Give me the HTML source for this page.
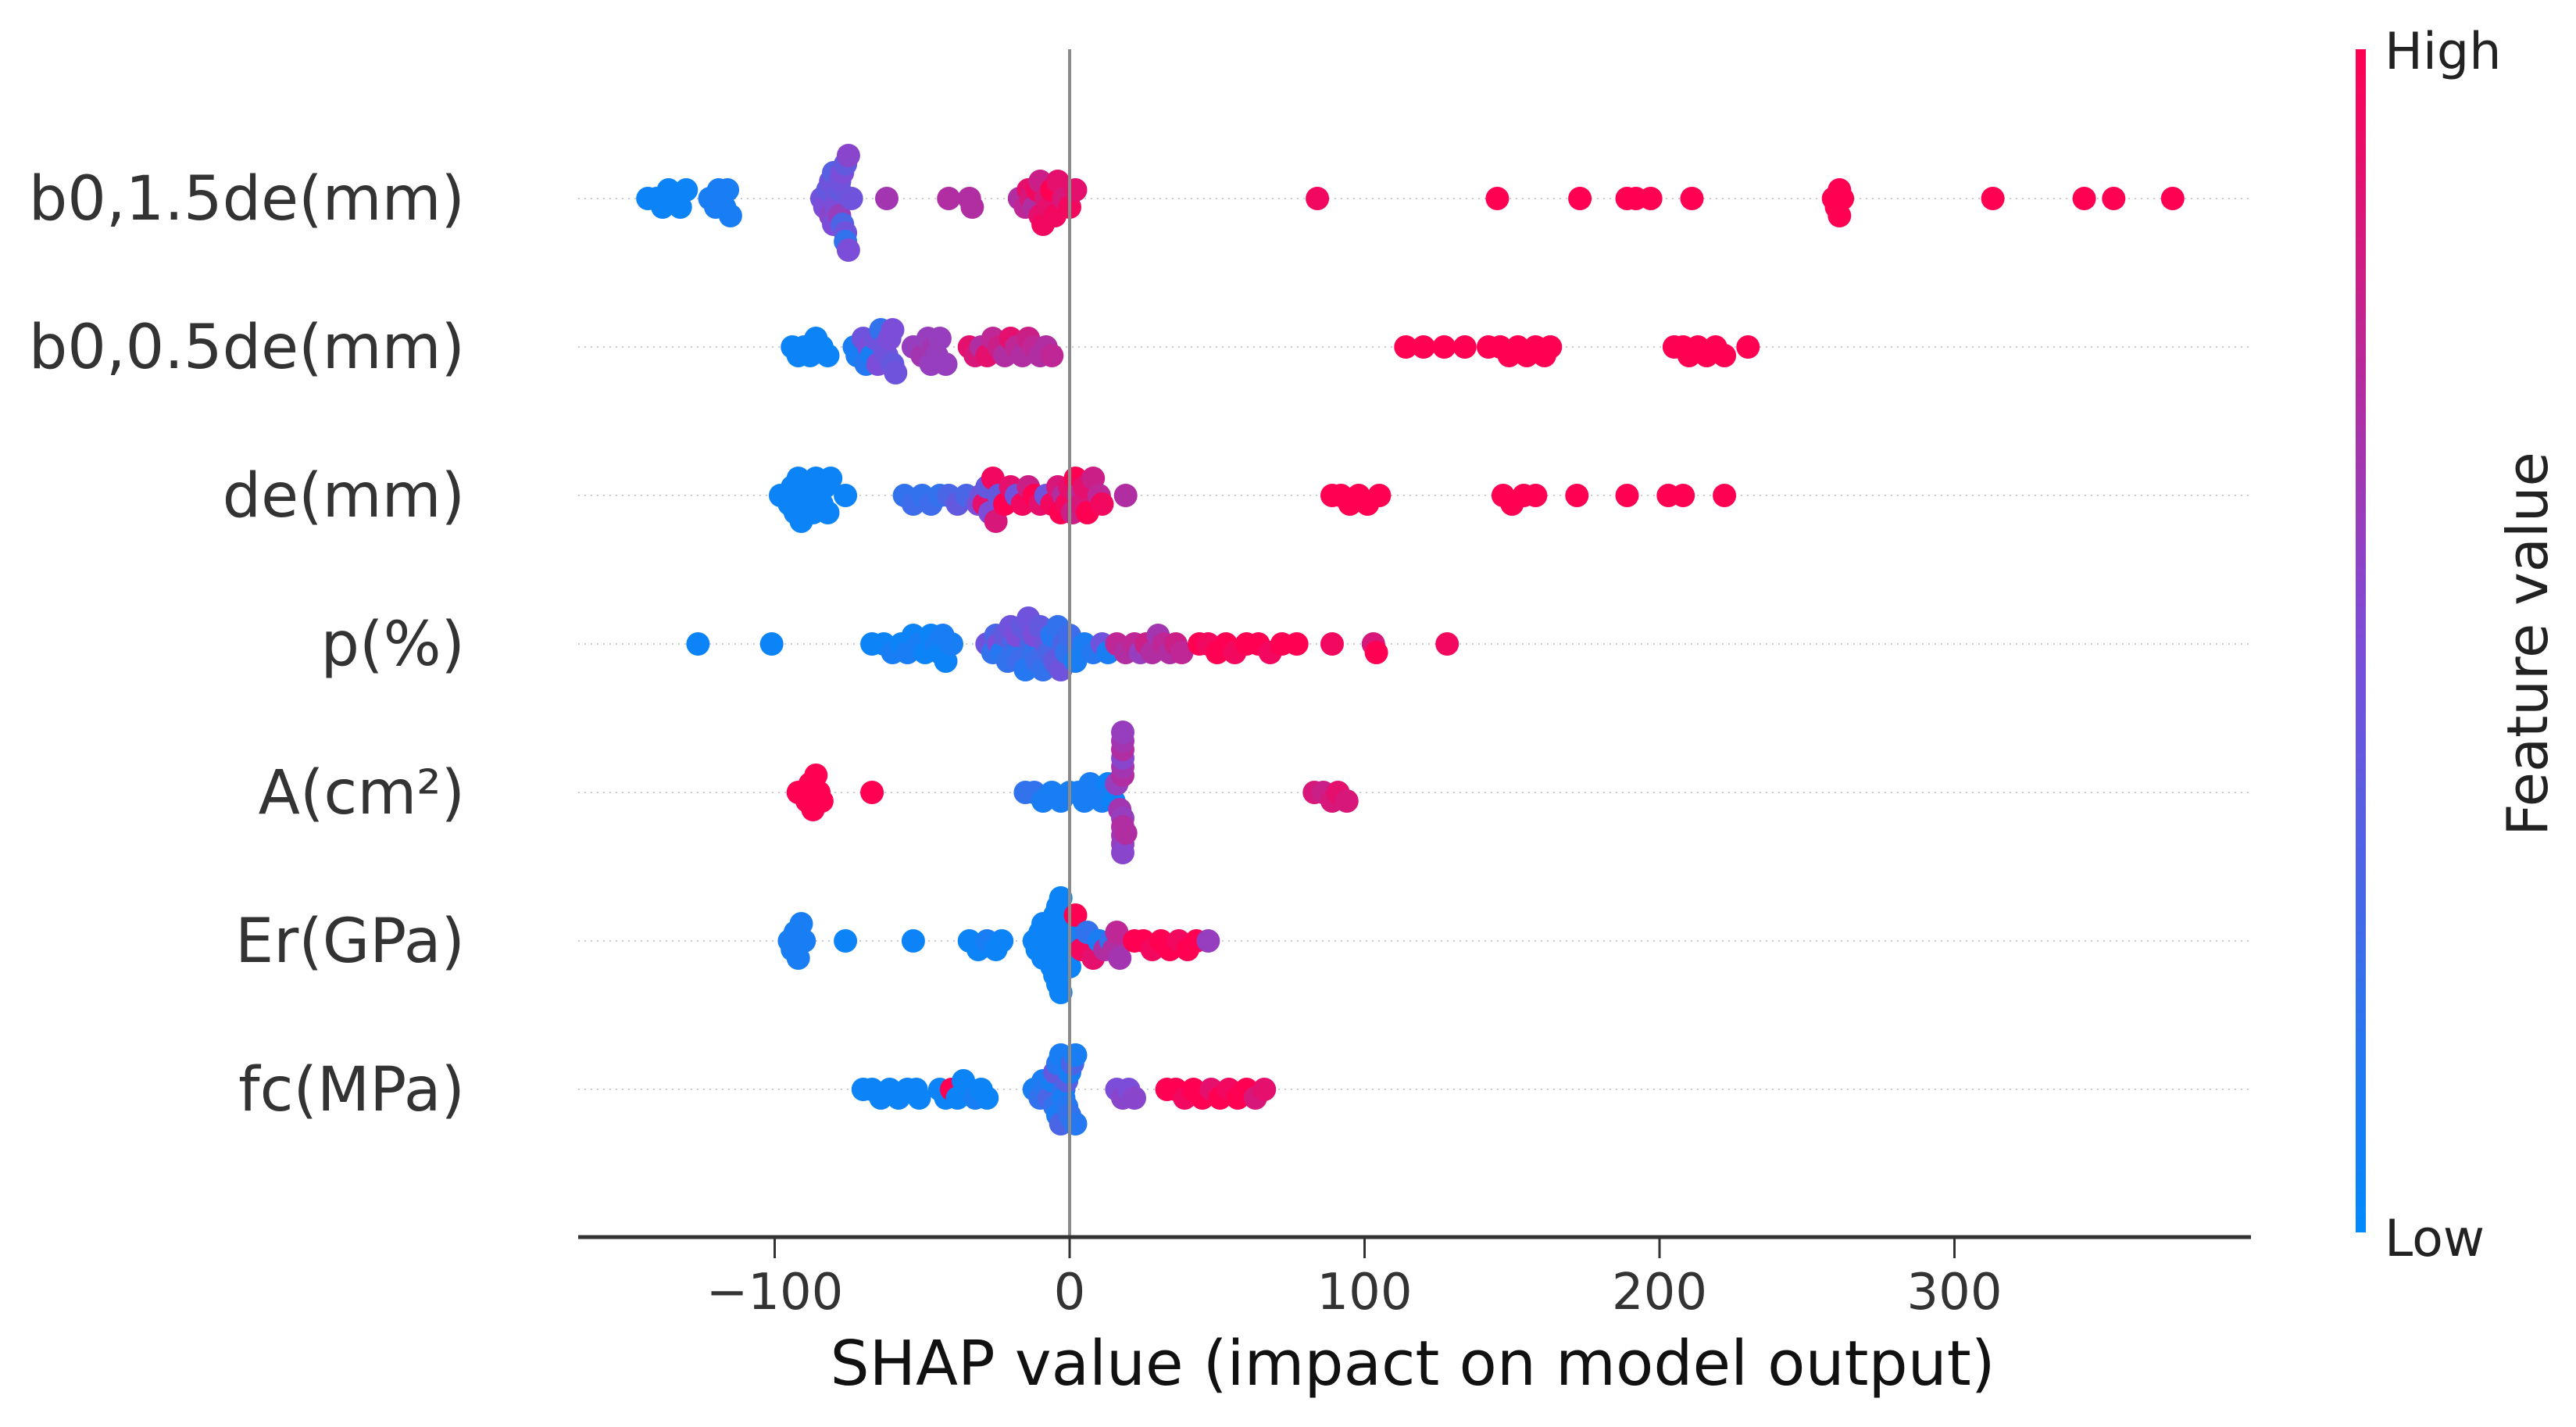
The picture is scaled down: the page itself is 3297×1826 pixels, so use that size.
<!DOCTYPE html>
<html><head><meta charset="utf-8">
<style>
html,body{margin:0;padding:0;background:#fff;}
svg{display:block;font-family:"DejaVu Sans","Liberation Sans",sans-serif;}
</style></head>
<body>
<svg id="chart" width="3297" height="1826" viewBox="0 0 3297 1826" xmlns="http://www.w3.org/2000/svg">
<defs>
<linearGradient id="cbar" x1="0" y1="1" x2="0" y2="0">
<stop offset="0" stop-color="#008afb"/>
<stop offset="0.5" stop-color="#7c4dd8"/>
<stop offset="1" stop-color="#ff0052"/>
</linearGradient>
</defs>
<g id="rows"></g>
<g id="dots"></g>
<line x1="1369" y1="63" x2="1369" y2="1583" stroke="#8a8a8a" stroke-width="4"/>
<line x1="740" y1="1583" x2="2881" y2="1583" stroke="#333" stroke-width="5"/>
<g id="xticks"></g>
<text x="1808" y="1772" font-size="79" text-anchor="middle" fill="#111">SHAP value (impact on model output)</text>
<rect x="3015" y="63" width="13" height="1514" fill="url(#cbar)"/>
<text x="3052" y="88" font-size="65" fill="#222">High</text>
<text x="3052" y="1607" font-size="65" fill="#222">Low</text>
<text transform="translate(3260,824) rotate(-90)" font-size="72" text-anchor="middle" fill="#222">Feature value</text>
</svg>
<script>
const features = ["b0,1.5de(mm)","b0,0.5de(mm)","de(mm)","p(%)","A(cm²)","Er(GPa)","fc(MPa)"];
const xTicks = [-100,0,100,200,300];
const xTickLabels = ["\u2212100","0","100","200","300"];
// SHAP values per feature and matching normalized feature values (0=low,1=high)
const shap0 = [-143,-140,-138,-136,-134,-132,-130,-122,-120,-119,-118,-117,-116,-115,-84,-83,-82,-81,-81,-80,-80,-79,-79,-78,-78,-78,-77,-77,-76,-76,-76,-75,-75,-74,-62,-41,-34,-33,-17,-15,-14,-13,-12,-11,-10,-10,-9,-8,-7,-6,-5,-4,-2,0,2,84,145,173,189,192,197,211,259,260,261,261,262,313,344,354,374];
const feat0 = [0.05,0.05,0.05,0.05,0.05,0.05,0.05,0.1,0.1,0.1,0.1,0.1,0.1,0.1,0.45,0.5,0.4,0.55,0.45,0.5,0.35,0.45,0.5,0.4,0.6,0.45,0.3,0.5,0.45,0.4,0.2,0.55,0.5,0.45,0.65,0.7,0.7,0.7,0.7,0.75,0.9,0.85,0.7,0.95,0.9,0.8,0.95,0.85,0.9,1,0.95,0.9,0.85,0.95,0.9,0.95,1,1,1,1,1,1,1,1,1,1,1,1,1,1,1];
const shap1 = [-94,-92,-90,-88,-86,-84,-82,-73,-72,-70,-69,-68,-67,-66,-65,-64,-63,-62,-61,-60,-60,-59,-53,-51,-50,-48,-47,-46,-45,-44,-42,-34,-32,-30,-28,-26,-24,-22,-20,-18,-16,-14,-12,-10,-8,-6,114,120,127,134,142,146,149,152,155,158,161,163,205,208,210,213,216,219,222,230];
const feat1 = [0.05,0.05,0.05,0.05,0.05,0.05,0.05,0.1,0.1,0.45,0.15,0.5,0.1,0.45,0.5,0.2,0.45,0.45,0.5,0.4,0.5,0.45,0.6,0.6,0.65,0.6,0.6,0.65,0.6,0.6,0.6,0.9,0.85,0.7,0.9,0.75,0.8,0.7,0.9,0.75,0.7,0.8,0.75,0.7,0.7,0.75,1,1,1,1,1,1,1,1,1,1,1,1,1,1,1,1,1,1,1,1];
const shap2 = [-98,-96,-95,-94,-93,-92,-91,-90,-89,-88,-87,-86,-85,-84,-83,-82,-81,-76,-56,-53,-50,-47,-44,-41,-38,-35,-31,-30,-29,-28,-27,-26,-25,-24,-22,-20,-18,-16,-14,-12,-10,-8,-6,-4,-3,-2,-1,0,1,2,3,4,5,6,8,10,11,19,89,92,95,98,101,105,147,150,154,158,172,189,203,208,222];
const feat2 = [0.05,0.05,0.05,0.05,0.05,0.05,0.05,0.05,0.05,0.05,0.05,0.05,0.05,0.05,0.05,0.05,0.05,0.05,0.2,0.25,0.2,0.25,0.2,0.3,0.4,0.3,0.5,0.45,0.9,0.4,0.5,0.95,0.85,0.4,1,0.9,0.45,0.95,0.8,1,0.9,0.45,0.95,0.85,1,0.7,0.95,0.9,0.8,1,0.75,0.85,0.9,1,0.8,0.75,0.95,0.7,1,1,1,1,1,1,1,1,1,1,1,1,1,1,1];
const shap3 = [-126,-101,-67,-63,-60,-57,-55,-53,-51,-49,-47,-45,-44,-43,-42,-40,-28,-26,-25,-24,-23,-22,-21,-20,-19,-18,-18,-17,-16,-15,-14,-13,-12,-12,-11,-10,-9,-8,-7,-6,-5,-4,-3,-2,-1,0,2,5,8,11,13,16,19,22,24,26,28,30,32,34,36,38,44,47,50,53,56,60,64,68,72,77,89,103,104,128];
const feat3 = [0.05,0.05,0.05,0.05,0.1,0.05,0.1,0.05,0.1,0.05,0.05,0.1,0.05,0.1,0.05,0.1,0.45,0.2,0.3,0.5,0.15,0.4,0.2,0.45,0.3,0.2,0.5,0.25,0.4,0.15,0.45,0.3,0.2,0.5,0.25,0.4,0.2,0.45,0.3,0.15,0.4,0.2,0.45,0.3,0.2,0.25,0.1,0.1,0.15,0.45,0.1,0.75,0.7,0.75,0.6,0.8,0.7,0.65,0.75,0.7,0.8,0.75,1,0.95,1,1,0.95,1,1,0.95,1,1,0.95,0.85,1,0.95];
const shap4 = [-92,-90,-89,-88,-87,-86,-85,-84,-67,-15,-12,-9,-6,-3,0,3,5,7,9,11,13,14,15,16,17,18,18,18,18,18,18,18,18,18,18,18,19,83,86,89,91,94];
const feat4 = [1,1,1,1,1,1,1,1,1,0.2,0.2,0.1,0.1,0.1,0.1,0.1,0.1,0.1,0.1,0.1,0.05,0.1,0.05,0.6,0.65,0.7,0.6,0.65,0.7,0.55,0.65,0.7,0.6,0.65,0.55,0.6,0.7,0.85,0.8,0.85,0.9,0.85];
const shap5 = [-95,-94,-93,-92,-91,-90,-76,-53,-34,-31,-28,-25,-23,-12,-11,-10,-9,-9,-8,-8,-7,-7,-6,-6,-5,-5,-4,-4,-3,-3,-2,-2,-1,-1,0,0,2,3,4,6,8,10,12,14,15,16,17,22,25,28,31,34,37,40,43,47];
const feat5 = [0.1,0.1,0.1,0.1,0.1,0.1,0.05,0.05,0.05,0.05,0.1,0.05,0.05,0.05,0.05,0.05,0.05,0.05,0.05,0.05,0.05,0.05,0.05,0.05,0.05,0.05,0.05,0.05,0.05,0.05,0.05,0.05,0.05,0.05,0.05,0.05,1,0.1,0.95,0.2,0.9,0.1,0.7,0.2,0.7,0.75,0.65,1,1,0.95,1,1,0.95,1,1,0.6];
const shap6 = [-70,-67,-64,-61,-58,-55,-52,-51,-44,-42,-40,-38,-36,-34,-32,-30,-28,-12,-10,-9,-8,-7,-6,-5,-5,-4,-4,-3,-3,-2,-2,-1,-1,0,0,1,2,2,16,18,20,22,33,36,39,42,45,48,51,54,57,60,63,66];
const feat6 = [0.05,0.05,0.05,0.05,0.05,0.05,0.05,0.05,0.05,0.05,1,0.05,0.05,0.05,0.1,0.05,0.05,0.1,0.2,0.1,0.15,0.3,0.1,0.2,0.4,0.1,0.15,0.3,0.1,0.2,0.1,0.35,0.15,0.1,0.2,0.3,0.15,0.1,0.5,0.55,0.5,0.55,1,1,0.95,1,1,0.9,1,0.95,1,1,0.85,0.9];
const shapRows = [shap0,shap1,shap2,shap3,shap4,shap5,shap6];
const featRows = [feat0,feat1,feat2,feat3,feat4,feat5,feat6];

const NS = "http://www.w3.org/2000/svg";
function xScale(v){ return 1369 + v*3.775; }
function yRow(i){ return 254 + i*190; }
function color(t){
  const a=[0,138,251], m=[124,77,216], b=[255,0,82];
  let c;
  if(t<0.5){const u=t/0.5; c=a.map((v,k)=>Math.round(v+(m[k]-v)*u));}
  else{const u=(t-0.5)/0.5; c=m.map((v,k)=>Math.round(v+(b[k]-v)*u));}
  return "rgb("+c.join(",")+")";
}
const rowsG=document.getElementById("rows"), dotsG=document.getElementById("dots"), ticksG=document.getElementById("xticks");
features.forEach((f,i)=>{
  const y=yRow(i);
  const gl=document.createElementNS(NS,"line");
  
  
  gl.setAttribute("x1",740);gl.setAttribute("x2",2881);gl.setAttribute("y1",y);gl.setAttribute("y2",y);
  gl.setAttribute("stroke","#ccc");gl.setAttribute("stroke-width","2");gl.setAttribute("stroke-dasharray","2 6");
  rowsG.appendChild(gl);
  const t=document.createElementNS(NS,"text");
  
  
  t.setAttribute("x",595);t.setAttribute("y",y+27);t.setAttribute("font-size","78");
  t.setAttribute("text-anchor","end");t.setAttribute("fill","#333");
  t.textContent=f; rowsG.appendChild(t);
  const vals=shapRows[i], fv=featRows[i];
  const bins={};
  vals.forEach((v,j)=>{
    const b=Math.round(v/5.5);
    bins[b]=(bins[b]||0);
    const k=bins[b]; bins[b]++;
    let off=(k===0)?0:(k%2===1?1:-1)*Math.ceil(k/2)*11;
    if(Math.abs(off)>80) off=Math.sign(off)*(80-(Math.abs(off)%30));
    const c=document.createElementNS(NS,"circle");
    
    
    c.setAttribute("cx",xScale(v).toFixed(1));c.setAttribute("cy",y+off);
    c.setAttribute("r","15");c.setAttribute("fill",color(fv[j]));
    dotsG.appendChild(c);
  });
});
xTicks.forEach((v,i)=>{
  const x=xScale(v);
  const l=document.createElementNS(NS,"line");
  
  
  l.setAttribute("x1",x);l.setAttribute("x2",x);l.setAttribute("y1",1583);l.setAttribute("y2",1610);
  l.setAttribute("stroke","#333");l.setAttribute("stroke-width","3");
  ticksG.appendChild(l);
  const t=document.createElementNS(NS,"text");
  
  
  t.setAttribute("x",x);t.setAttribute("y",1675);t.setAttribute("font-size","64");
  t.setAttribute("text-anchor","middle");t.setAttribute("fill","#333");
  t.textContent=xTickLabels[i]; ticksG.appendChild(t);
});
</script>
</body></html>
